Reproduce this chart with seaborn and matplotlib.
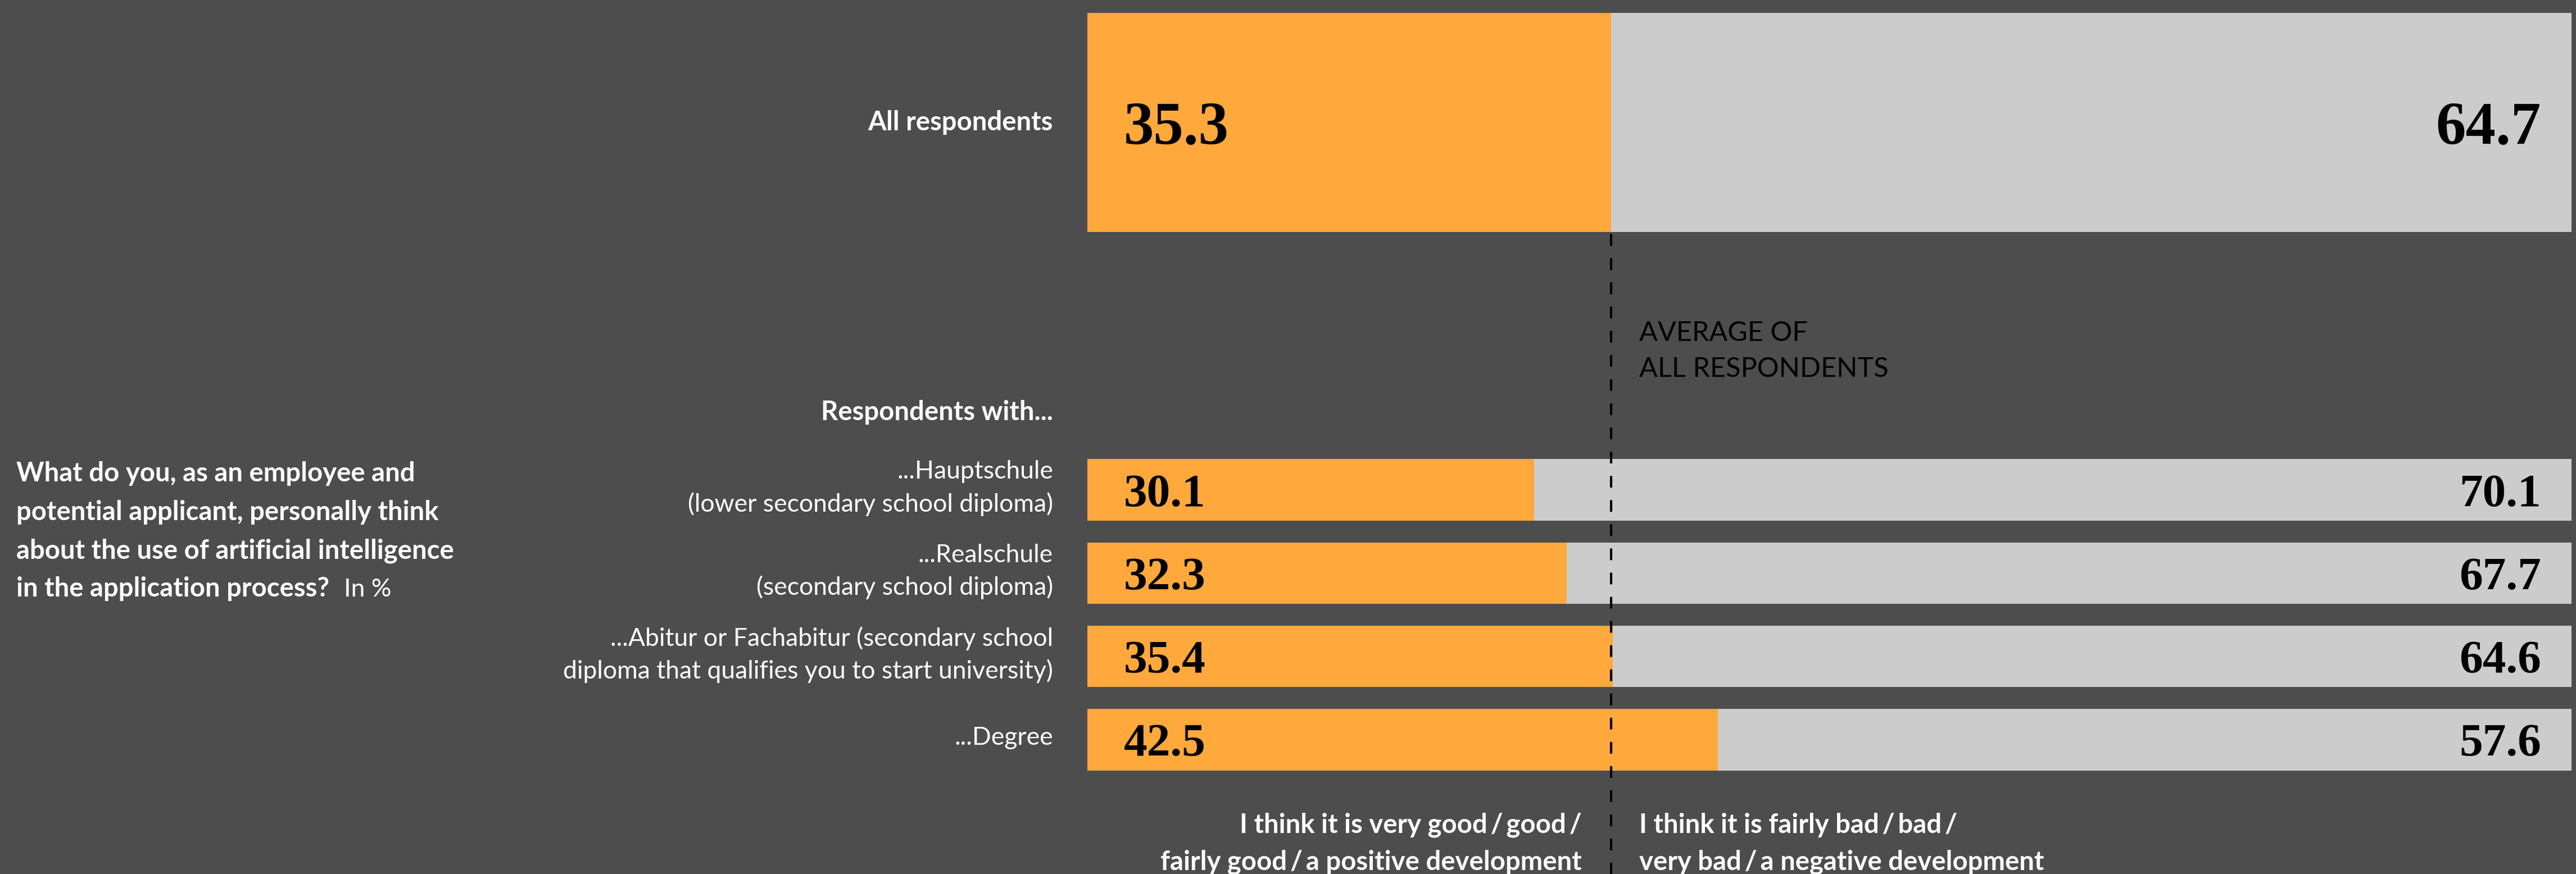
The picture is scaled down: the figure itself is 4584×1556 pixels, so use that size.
import matplotlib
matplotlib.use("Agg")
import matplotlib.pyplot as plt
import matplotlib.transforms as mtransforms
import seaborn as sns
import pandas as pd

# ---------------- data ----------------
overall_label = ["All respondents"]
overall_positive = [35.3]
overall_negative = [64.7]

group_labels = [
    "...Hauptschule\n(lower secondary school diploma)",
    "...Realschule\n(secondary school diploma)",
    "...Abitur or Fachabitur (secondary school\ndiploma that qualifies you to start university)",
    "...Degree",
]
group_positive = [30.1, 32.3, 35.4, 42.5]
group_negative = [70.1, 67.7, 64.6, 57.6]

question_lines = [
    "What do you, as an employee and",
    "potential applicant, personally think",
    "about the use of artificial intelligence",
    "in the application process?",
]
unit_text = "In %"
group_header = "Respondents with..."
average_text = "AVERAGE OF\nALL RESPONDENTS"
positive_caption = "I think it is very good\u2009/\u2009good\u2009/\nfairly good\u2009/\u2009a positive development"
negative_caption = "I think it is fairly bad\u2009/\u2009bad\u2009/\nvery bad\u2009/\u2009a negative development"

# ---------------- style ----------------
W, H = 4584, 1556
BG = "#4d4d4d"
ORANGE = "#ffa83c"
GREY = "#cccccc"
SANS = ["Lato", "DejaVu Sans"]
SERIF = ["Liberation Serif", "DejaVu Serif"]
BOLD_SIZE = 34
REG_SIZE = 32

sns.set_theme(style="white")
plt.rcParams["font.family"] = SANS
plt.rcParams["lines.scale_dashes"] = False

fig = plt.figure(figsize=(W / 100, H / 100), dpi=100, facecolor=BG)


def rect(x0, y0, x1, y1):
    return [x0 / W, 1 - y1 / H, (x1 - x0) / W, (y1 - y0) / H]


def fx(x):
    return x / W


def fy(y):
    return 1 - y / H


X0, X1 = 1935, 4576
ax_top = fig.add_axes(rect(X0, 23, X1, 413))
ax_bot = fig.add_axes(rect(X0, 798, X1, 1391))

df_top = pd.DataFrame({
    "label": overall_label,
    "positive": overall_positive,
    "total": [p + n for p, n in zip(overall_positive, overall_negative)],
})
df_bot = pd.DataFrame({
    "label": group_labels,
    "positive": group_positive,
    "total": [p + n for p, n in zip(group_positive, group_negative)],
})

for ax, df, w in [(ax_top, df_top, 1.0), (ax_bot, df_bot, 0.74)]:
    sns.barplot(data=df, x="total", y="label", orient="h", color=GREY,
                saturation=1, width=w, edgecolor="none", linewidth=0, ax=ax)
    sns.barplot(data=df, x="positive", y="label", orient="h", color=ORANGE,
                saturation=1, width=w, edgecolor="none", linewidth=0, ax=ax)
    ax.set_facecolor("none")
    ax.set_xlim(0, 100)
    n = len(df)
    ax.set_ylim(n - 0.5, -0.5)
    for s in ax.spines.values():
        s.set_visible(False)
    ax.set_xticks([])
    ax.set_yticks([])
    ax.set_xlabel("")
    ax.set_ylabel("")

# category labels (right-aligned left of the bars)
up = mtransforms.ScaledTranslation(0, 3 / 100, fig.dpi_scale_trans)
tr_top = mtransforms.blended_transform_factory(fig.transFigure, ax_top.transData)
tr_bot = mtransforms.blended_transform_factory(fig.transFigure, ax_bot.transData) + up
for i, lab in enumerate(overall_label):
    ax_top.text(fx(1874), i, lab, transform=tr_top, ha="right", va="center",
                color="white", fontsize=BOLD_SIZE, fontweight="bold")
for i, lab in enumerate(group_labels):
    ax_bot.text(fx(1874), i, lab, transform=tr_bot, ha="right", va="center",
                color="white", fontsize=REG_SIZE, fontweight="normal",
                linespacing=1.45)

# value labels
xl = (2000 - X0) / (X1 - X0) * 100
xr = (4522 - X0) / (X1 - X0) * 100
for i, (p, n) in enumerate(zip(overall_positive, overall_negative)):
    ax_top.text(xl, i, f"{p:.1f}", ha="left", va="center_baseline", family=SERIF,
                fontweight="bold", fontsize=77, color="black")
    ax_top.text(xr, i, f"{n:.1f}", ha="right", va="center_baseline", family=SERIF,
                fontweight="bold", fontsize=77, color="black")
for i, (p, n) in enumerate(zip(group_positive, group_negative)):
    ax_bot.text(xl, i, f"{p:.1f}", ha="left", va="center_baseline", family=SERIF,
                fontweight="bold", fontsize=60, color="black")
    ax_bot.text(xr, i, f"{n:.1f}", ha="right", va="center_baseline", family=SERIF,
                fontweight="bold", fontsize=60, color="black")

# average dashed line
ymin = (1391 - 1560) / (1391 - 798)
ymax = (1391 - 413) / (1391 - 798)
ax_bot.axvline(overall_positive[0], ymin=ymin, ymax=ymax, clip_on=False,
               color="black", lw=3, linestyle=(0, (15, 16)), zorder=5)

# texts
fig.text(fx(1874), fy(734), group_header, ha="right", va="center",
         color="white", fontsize=BOLD_SIZE, fontweight="bold")
fig.text(fx(2917), fy(625), average_text, ha="left", va="center",
         color="black", fontsize=35, linespacing=1.55)

q_y = [857, 926, 994, 1062]
last = None
for line, y in zip(question_lines, q_y):
    last = fig.text(fx(29), fy(y), line, ha="left", va="baseline",
                    color="white", fontsize=BOLD_SIZE, fontweight="bold")
fig.canvas.draw()
bb = last.get_window_extent(renderer=fig.canvas.get_renderer())
fig.text(fx(bb.x1 + 26), fy(q_y[-1]), unit_text, ha="left", va="baseline",
         color="white", fontsize=REG_SIZE, fontweight="normal")

fig.text(fx(2815), fy(1502), positive_caption, ha="right", va="center",
         color="white", fontsize=BOLD_SIZE, fontweight="bold", linespacing=1.6)
fig.text(fx(2917), fy(1502), negative_caption, ha="left", va="center",
         color="white", fontsize=BOLD_SIZE, fontweight="bold", linespacing=1.6)

fig.savefig("out.png", dpi=100, facecolor=BG)
